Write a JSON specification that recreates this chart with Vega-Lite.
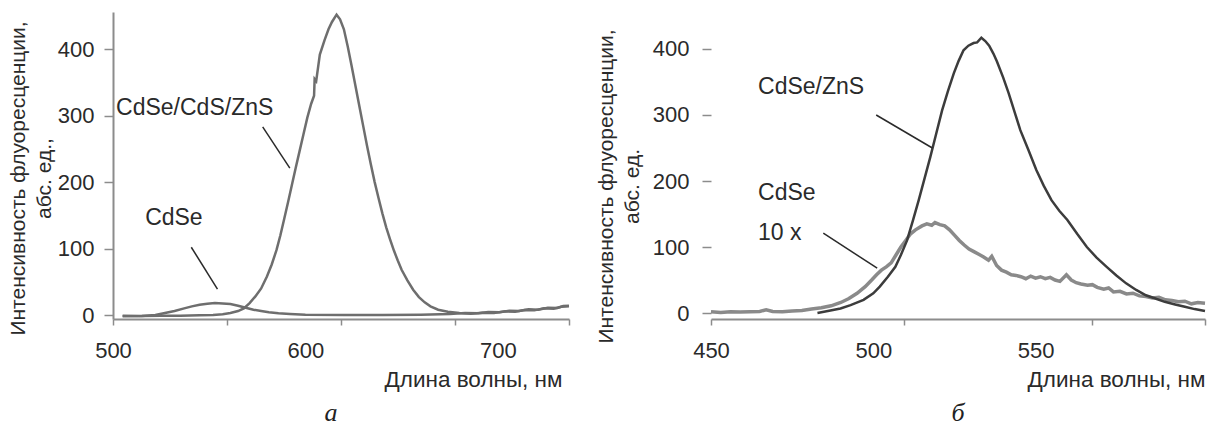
{
  "$schema": "https://vega.github.io/schema/vega-lite/v6.json",
  "padding": {"left": 7, "top": 9, "right": 0, "bottom": 0},
  "background": "white",
  "spacing": 21,
  "config": {
    "view": {"stroke": null},
    "font": "Liberation Sans",
    "axis": {
      "domainColor": "#8c8c8c", "domainWidth": 2, "tickColor": "#8c8c8c", "tickWidth": 1.5,
      "labelColor": "#2a2a2a", "labelFontSize": 22, "labelFont": "Liberation Sans",
      "titleFontSize": 22.5, "titleFontWeight": "normal", "titleColor": "#2a2a2a", "titleFont": "Liberation Sans",
      "grid": false
    }
  },
  "datasets": {
    "a_shell": [
      {"nm": 505, "v": -1}, {"nm": 515, "v": -1.5}, {"nm": 525, "v": -1}, {"nm": 535, "v": -1}, {"nm": 545, "v": -0.5},
      {"nm": 552, "v": 0}, {"nm": 557, "v": 1}, {"nm": 561, "v": 3}, {"nm": 565, "v": 6}, {"nm": 568, "v": 10},
      {"nm": 571, "v": 18}, {"nm": 574, "v": 28}, {"nm": 577, "v": 40}, {"nm": 580, "v": 58}, {"nm": 582.5, "v": 76},
      {"nm": 585, "v": 98}, {"nm": 587, "v": 120}, {"nm": 589, "v": 145}, {"nm": 591, "v": 170}, {"nm": 593, "v": 196},
      {"nm": 595, "v": 222}, {"nm": 597, "v": 247}, {"nm": 599, "v": 272}, {"nm": 601, "v": 297}, {"nm": 603, "v": 318},
      {"nm": 604.5, "v": 330}, {"nm": 604.8, "v": 355}, {"nm": 605.6, "v": 352}, {"nm": 607.5, "v": 392}, {"nm": 610, "v": 414},
      {"nm": 612, "v": 430}, {"nm": 613.8, "v": 441}, {"nm": 616.2, "v": 452}, {"nm": 618, "v": 445}, {"nm": 620, "v": 430},
      {"nm": 622, "v": 404}, {"nm": 624, "v": 375}, {"nm": 626, "v": 345}, {"nm": 628, "v": 315}, {"nm": 630, "v": 285},
      {"nm": 632, "v": 255}, {"nm": 634, "v": 227}, {"nm": 636, "v": 200}, {"nm": 638, "v": 176}, {"nm": 640, "v": 153},
      {"nm": 642, "v": 132}, {"nm": 644, "v": 114}, {"nm": 646, "v": 97}, {"nm": 648, "v": 82}, {"nm": 650, "v": 68},
      {"nm": 653, "v": 52}, {"nm": 656, "v": 38}, {"nm": 659, "v": 27}, {"nm": 662, "v": 19}, {"nm": 665, "v": 13},
      {"nm": 669, "v": 8}, {"nm": 674, "v": 5}, {"nm": 680, "v": 3}, {"nm": 686, "v": 2}, {"nm": 692, "v": 3.5},
      {"nm": 698, "v": 3}, {"nm": 704, "v": 5.5}, {"nm": 709, "v": 5}, {"nm": 714, "v": 7.5}, {"nm": 719, "v": 7},
      {"nm": 724, "v": 10}, {"nm": 729, "v": 9.5}, {"nm": 733, "v": 12.5}, {"nm": 737, "v": 13}
    ],
    "a_core": [
      {"nm": 505, "v": -2}, {"nm": 515, "v": -1.5}, {"nm": 522, "v": 0}, {"nm": 527, "v": 3}, {"nm": 532, "v": 6},
      {"nm": 537, "v": 10}, {"nm": 541, "v": 13}, {"nm": 545, "v": 15.5}, {"nm": 549, "v": 17}, {"nm": 553, "v": 18},
      {"nm": 557, "v": 17.5}, {"nm": 561, "v": 16.5}, {"nm": 565, "v": 14}, {"nm": 569, "v": 11}, {"nm": 573, "v": 8},
      {"nm": 577, "v": 6}, {"nm": 581, "v": 4}, {"nm": 586, "v": 2.5}, {"nm": 592, "v": 1.5}, {"nm": 600, "v": 0.5},
      {"nm": 620, "v": 0}, {"nm": 640, "v": 0}, {"nm": 660, "v": 0.5}, {"nm": 675, "v": 1.5}, {"nm": 683, "v": 3},
      {"nm": 690, "v": 2.5}, {"nm": 695, "v": 4.5}, {"nm": 701, "v": 4}, {"nm": 706, "v": 6.5}, {"nm": 711, "v": 6},
      {"nm": 716, "v": 8.5}, {"nm": 721, "v": 8}, {"nm": 726, "v": 11}, {"nm": 731, "v": 10.5}, {"nm": 734, "v": 13.5},
      {"nm": 737, "v": 14}
    ],
    "a_ann": [
      {"nm": 501.6, "v": 311, "label": "CdSe/CdS/ZnS"},
      {"nm": 516.7, "v": 146, "label": "CdSe"}
    ],
    "a_ptr": [
      {"nm": 577.8, "v": 283, "nm2": 591.9, "v2": 221},
      {"nm": 540.7, "v": 102, "nm2": 554.3, "v2": 39}
    ],
    "b_shell": [
      {"nm": 482.8, "v": 0}, {"nm": 486, "v": 3}, {"nm": 489.9, "v": 7}, {"nm": 493, "v": 12}, {"nm": 497, "v": 20},
      {"nm": 500, "v": 30}, {"nm": 502, "v": 40}, {"nm": 504.5, "v": 55}, {"nm": 506.8, "v": 70}, {"nm": 508.5, "v": 88},
      {"nm": 510.4, "v": 110}, {"nm": 512.2, "v": 140}, {"nm": 514, "v": 171}, {"nm": 515.8, "v": 204}, {"nm": 517.6, "v": 237},
      {"nm": 519.4, "v": 272}, {"nm": 521.2, "v": 307}, {"nm": 523, "v": 336}, {"nm": 524.8, "v": 363}, {"nm": 526.3, "v": 382},
      {"nm": 527.8, "v": 398}, {"nm": 529.3, "v": 405}, {"nm": 530.9, "v": 409}, {"nm": 532, "v": 410}, {"nm": 533.3, "v": 417},
      {"nm": 534.5, "v": 412}, {"nm": 535.7, "v": 405}, {"nm": 537, "v": 393}, {"nm": 538.1, "v": 381}, {"nm": 540, "v": 357},
      {"nm": 541.7, "v": 333}, {"nm": 543.5, "v": 305}, {"nm": 545.3, "v": 277}, {"nm": 547.8, "v": 247}, {"nm": 550.2, "v": 217},
      {"nm": 552.5, "v": 193}, {"nm": 554.9, "v": 171}, {"nm": 557.3, "v": 155}, {"nm": 559.8, "v": 141}, {"nm": 562.8, "v": 120},
      {"nm": 565.8, "v": 100}, {"nm": 568.8, "v": 84}, {"nm": 571.9, "v": 70}, {"nm": 574.9, "v": 57}, {"nm": 577.9, "v": 45},
      {"nm": 581, "v": 35}, {"nm": 584, "v": 27}, {"nm": 586.9, "v": 22}, {"nm": 589.8, "v": 17}, {"nm": 593, "v": 13},
      {"nm": 596, "v": 9.5}, {"nm": 599, "v": 6}, {"nm": 602.2, "v": 3}
    ],
    "b_core": [
      {"nm": 450, "v": 2}, {"nm": 453, "v": 1}, {"nm": 456, "v": 2}, {"nm": 459, "v": 1.5}, {"nm": 462, "v": 2},
      {"nm": 465, "v": 2.5}, {"nm": 467, "v": 5}, {"nm": 469, "v": 2.5}, {"nm": 472, "v": 2}, {"nm": 475, "v": 3},
      {"nm": 478, "v": 4}, {"nm": 481, "v": 6}, {"nm": 484, "v": 8}, {"nm": 487, "v": 11}, {"nm": 490, "v": 16},
      {"nm": 492.5, "v": 22}, {"nm": 495, "v": 30}, {"nm": 497.5, "v": 40}, {"nm": 499.5, "v": 50}, {"nm": 501, "v": 58},
      {"nm": 502.5, "v": 65}, {"nm": 504, "v": 70}, {"nm": 505.5, "v": 76}, {"nm": 507, "v": 88}, {"nm": 508.5, "v": 100},
      {"nm": 510, "v": 110}, {"nm": 511.5, "v": 120}, {"nm": 513, "v": 126}, {"nm": 515, "v": 132}, {"nm": 516.5, "v": 135},
      {"nm": 518, "v": 133}, {"nm": 519, "v": 137}, {"nm": 520.5, "v": 134}, {"nm": 522, "v": 132}, {"nm": 523.5, "v": 126},
      {"nm": 525, "v": 118}, {"nm": 526.5, "v": 110}, {"nm": 528, "v": 103}, {"nm": 529.5, "v": 97}, {"nm": 531, "v": 93},
      {"nm": 532.5, "v": 89}, {"nm": 534, "v": 85}, {"nm": 535.5, "v": 80}, {"nm": 536.5, "v": 86}, {"nm": 538, "v": 72},
      {"nm": 539.5, "v": 65}, {"nm": 541, "v": 62}, {"nm": 542.5, "v": 58}, {"nm": 544, "v": 57}, {"nm": 545.5, "v": 55},
      {"nm": 547, "v": 52}, {"nm": 548.5, "v": 56}, {"nm": 550, "v": 53}, {"nm": 551.5, "v": 55}, {"nm": 553, "v": 52},
      {"nm": 554.5, "v": 54}, {"nm": 556, "v": 50}, {"nm": 557.5, "v": 48}, {"nm": 559.5, "v": 58}, {"nm": 561, "v": 50},
      {"nm": 562.5, "v": 46}, {"nm": 564, "v": 44}, {"nm": 566, "v": 42}, {"nm": 567.5, "v": 43}, {"nm": 569, "v": 39},
      {"nm": 571, "v": 36}, {"nm": 572.5, "v": 38}, {"nm": 574, "v": 32}, {"nm": 576, "v": 33}, {"nm": 578, "v": 29},
      {"nm": 580, "v": 30}, {"nm": 582, "v": 26}, {"nm": 584, "v": 25}, {"nm": 586, "v": 23}, {"nm": 588, "v": 24},
      {"nm": 590, "v": 20}, {"nm": 592, "v": 19}, {"nm": 594, "v": 17}, {"nm": 596, "v": 18}, {"nm": 598, "v": 14},
      {"nm": 600, "v": 16}, {"nm": 602.2, "v": 15}
    ],
    "b_ann": [
      {"nm": 464.5, "v": 342, "label": "CdSe/ZnS"},
      {"nm": 464.5, "v": 182, "label": "CdSe"},
      {"nm": 464.5, "v": 121, "label": "10 x"}
    ],
    "b_ptr": [
      {"nm": 500.9, "v": 300, "nm2": 518.2, "v2": 250},
      {"nm": 484.6, "v": 121, "nm2": 501.2, "v2": 68}
    ]
  },
  "hconcat": [
    {
      "width": 456,
      "height": 307,
      "title": {"text": "а", "orient": "bottom", "font": "Liberation Serif", "fontStyle": "italic", "fontWeight": "normal", "fontSize": 26, "color": "#222222", "offset": 9, "dx": -10},
      "layer": [
        {
          "data": {"name": "a_core"},
          "mark": {"type": "line", "color": "#6e6e6e", "strokeWidth": 2.5},
          "encoding": {
            "x": {
              "field": "nm", "type": "quantitative",
              "scale": {"domain": [500, 737], "nice": false, "zero": false},
              "axis": {
                "values": [500, 559.25, 600, 618.5, 677.75, 700, 737],
                "labelExpr": "indexof([500,600,700], datum.value) >= 0 ? datum.label : ''",
                "tickOpacity": {"condition": {"test": "datum.value == 600 || datum.value == 700", "value": 0}, "value": 1},
                "tickSize": 6, "labelPadding": 15, "labelOverlap": false, "labelFlush": false,
                "title": "Длина волны, нм", "titleAnchor": "end", "titleAlign": "right", "titleX": 449, "titlePadding": 7
              }
            },
            "y": {
              "field": "v", "type": "quantitative",
              "scale": {"domain": [-6, 456], "nice": false, "zero": false},
              "axis": {
                "values": [0, 100, 200, 300, 400], "tickSize": 9, "labelPadding": 10,
                "title": ["Интенсивность флуоресценции,", "абс. ед.,"], "titleFontSize": 21,
                "titleX": -95, "titleY": 166, "titleBaseline": "middle", "titleAlign": "center", "titleAngle": 270, "titleLineHeight": 26
              }
            }
          }
        },
        {
          "data": {"name": "a_shell"},
          "mark": {"type": "line", "color": "#6e6e6e", "strokeWidth": 2.5},
          "encoding": {
            "x": {"field": "nm", "type": "quantitative"},
            "y": {"field": "v", "type": "quantitative"}
          }
        },
        {
          "data": {"name": "a_ann"},
          "mark": {"type": "text", "align": "left", "baseline": "middle", "fontSize": 23, "color": "#2a2a2a"},
          "encoding": {
            "x": {"field": "nm", "type": "quantitative"},
            "y": {"field": "v", "type": "quantitative"},
            "text": {"field": "label"}
          }
        },
        {
          "data": {"name": "a_ptr"},
          "mark": {"type": "rule", "color": "#2a2a2a", "strokeWidth": 1.5},
          "encoding": {
            "x": {"field": "nm", "type": "quantitative"},
            "y": {"field": "v", "type": "quantitative"},
            "x2": {"field": "nm2"},
            "y2": {"field": "v2"}
          }
        }
      ]
    },
    {
      "width": 494,
      "height": 307,
      "title": {"text": "б", "orient": "bottom", "font": "Liberation Serif", "fontStyle": "italic", "fontWeight": "normal", "fontSize": 26, "color": "#222222", "offset": 9},
      "layer": [
        {
          "data": {"name": "b_core"},
          "mark": {"type": "line", "color": "#8a8a8a", "strokeWidth": 3.5},
          "encoding": {
            "x": {
              "field": "nm", "type": "quantitative",
              "scale": {"domain": [450, 602.2], "nice": false, "zero": false},
              "axis": {
                "values": [450, 500, 509.6, 550, 567.3, 602.2],
                "labelExpr": "indexof([450,500,550], datum.value) >= 0 ? datum.label : ''",
                "tickOpacity": {"condition": {"test": "datum.value == 500 || datum.value == 550", "value": 0}, "value": 1},
                "tickSize": 6, "labelPadding": 15, "labelOverlap": false, "labelFlush": false,
                "title": "Длина волны, нм", "titleAnchor": "end", "titleAlign": "right", "titlePadding": 7
              }
            },
            "y": {
              "field": "v", "type": "quantitative",
              "scale": {"domain": [-9, 456], "nice": false, "zero": false},
              "axis": {
                "values": [0, 100, 200, 300, 400], "tickSize": 9, "labelPadding": 13, "domain": false,
                "title": ["Интенсивность флуоресценции,", "абс. ед."], "titleFontSize": 21,
                "titleX": -105, "titleY": 174, "titleBaseline": "middle", "titleAlign": "center", "titleAngle": 270, "titleLineHeight": 26
              }
            }
          }
        },
        {
          "data": {"name": "b_shell"},
          "mark": {"type": "line", "color": "#3c3c3c", "strokeWidth": 2.5},
          "encoding": {
            "x": {"field": "nm", "type": "quantitative"},
            "y": {"field": "v", "type": "quantitative"}
          }
        },
        {
          "mark": {"type": "rule", "color": "#8c8c8c", "strokeWidth": 2},
          "encoding": {
            "x": {"datum": 450, "type": "quantitative"},
            "y": {"datum": -9, "type": "quantitative"},
            "y2": {"datum": 415}
          }
        },
        {
          "data": {"name": "b_ann"},
          "mark": {"type": "text", "align": "left", "baseline": "middle", "fontSize": 23, "color": "#2a2a2a"},
          "encoding": {
            "x": {"field": "nm", "type": "quantitative"},
            "y": {"field": "v", "type": "quantitative"},
            "text": {"field": "label"}
          }
        },
        {
          "data": {"name": "b_ptr"},
          "mark": {"type": "rule", "color": "#2a2a2a", "strokeWidth": 1.5},
          "encoding": {
            "x": {"field": "nm", "type": "quantitative"},
            "y": {"field": "v", "type": "quantitative"},
            "x2": {"field": "nm2"},
            "y2": {"field": "v2"}
          }
        }
      ]
    }
  ]
}
